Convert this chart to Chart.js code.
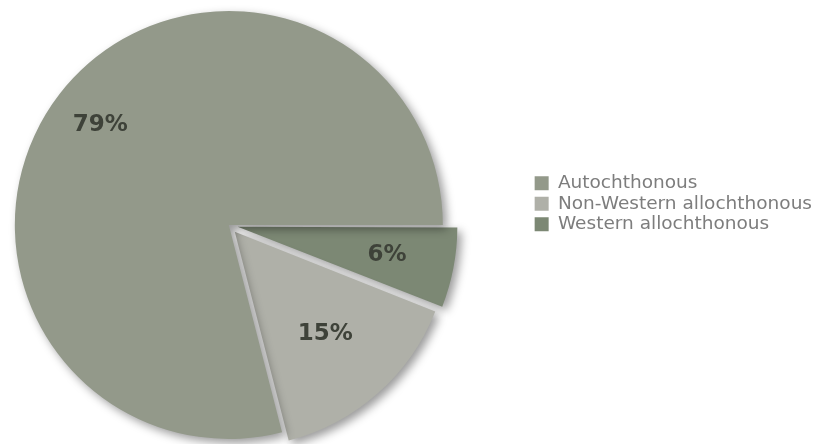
<!DOCTYPE html>
<html>
<head>
<meta charset="utf-8">
<script src="https://cdn.jsdelivr.net/npm/chart.js@4.4.1/dist/chart.umd.min.js"></script>
<style>
  body { margin: 0; background: #fff; }
  #wrap { width: 819px; height: 444px; position: relative; overflow: hidden; }
  #pieChart { position: absolute; left: -75px; top: 0; }
</style>
</head>
<body>
<div id="wrap"><canvas id="pieChart" width="905" height="444"></canvas></div>
<script>
// slices clockwise from 3 o'clock, legend is shown reversed
const groups = ['Western allochthonous', 'Non-Western allochthonous', 'Autochthonous'];
const shares = [6, 15, 79];
const sliceColors = ['#7c8874', '#afb0a8', '#93998a'];
const explode = [36, 36, 0];
const labelDepth = [0.71, 0.64, 0.76];

/**
 * Soft drop shadow under the slices
 */
const shadowPlugin = {
  id: 'shadow',
  beforeDatasetsDraw (chart) {
    const ctx = chart.ctx;
    ctx.save();
    ctx.shadowColor = 'rgba(0, 0, 0, 0.4)';
    ctx.shadowBlur = 10;
    ctx.shadowOffsetX = 4;
    ctx.shadowOffsetY = 4;
  },
  afterDatasetsDraw (chart) {
    chart.ctx.restore();
  }
};

/**
 * Percentage text inside each slice
 */
const percentPlugin = {
  id: 'percent',
  afterDraw (chart) {
    const ctx = chart.ctx;
    const meta = chart.getDatasetMeta(0);
    ctx.save();
    ctx.font = 'bold 23px "DejaVu Sans"';
    ctx.fillStyle = '#3e4239';
    ctx.textAlign = 'center';
    ctx.textBaseline = 'middle';
    meta.data.forEach((arc, i) => {
      const p = arc.getProps(['x', 'y', 'startAngle', 'endAngle', 'outerRadius'], true);
      const mid = (p.startAngle + p.endAngle) / 2;
      const shift = explode[i] / 4;
      const r = p.outerRadius * labelDepth[i];
      const x = p.x + Math.cos(mid) * (shift + r);
      const y = p.y + Math.sin(mid) * (shift + r);
      ctx.fillText(shares[i] + '%', x, y);
    });
    ctx.restore();
  }
};

const data = {
  labels: groups,
  datasets: [{
    data: shares,
    backgroundColor: sliceColors,
    borderColor: '#ffffff',
    borderWidth: 0,
    offset: explode,
    clip: false
  }]
};

const config = {
  type: 'pie',
  data: data,
  options: {
    responsive: false,
    animation: false,
    rotation: 90,
    radius: 214,
    layout: {
      padding: { left: 0, right: 8, top: 172, bottom: 166 }
    },
    plugins: {
      tooltip: { enabled: false },
      legend: {
        position: 'right',
        align: 'start',
        reverse: true,
        labels: {
          boxWidth: 14,
          boxHeight: 14,
          padding: 2,
          color: '#7d7d7d',
          font: { family: 'DejaVu Sans', size: 18.5 }
        }
      }
    }
  },
  plugins: [shadowPlugin, percentPlugin]
};

const myChart = new Chart(document.getElementById('pieChart'), config);
</script>
</body>
</html>
